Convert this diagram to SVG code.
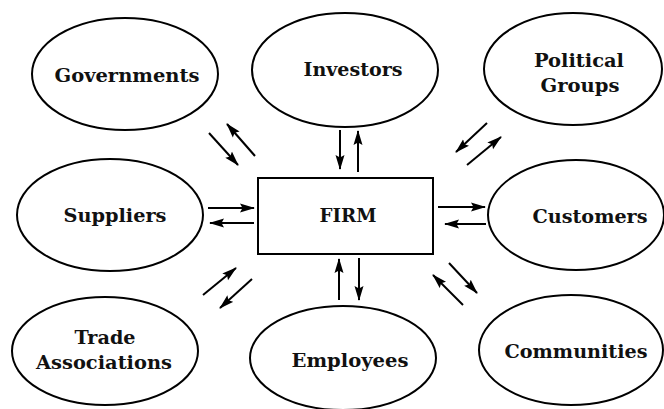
<svg xmlns="http://www.w3.org/2000/svg" width="664" height="409" viewBox="0 0 664 409">
<style>
.n{fill:#fff;stroke:#000;stroke-width:2}
.t{font-family:"DejaVu Serif","Liberation Serif",serif;font-weight:bold;font-size:18px;fill:#111;text-anchor:middle}
.c line{stroke:#000;stroke-width:2;marker-end:url(#ah)}
</style>
<defs>
<marker id="ah" viewBox="0 0 15 10" refX="14" refY="5" markerWidth="15" markerHeight="10" markerUnits="userSpaceOnUse" orient="auto">
<path d="M0,0.5 L15,5 L0,9.5 L2.5,5 z" fill="#000"/>
</marker>
</defs>
<rect width="664" height="409" fill="#fff"/>
<g id="governments"><ellipse class="n" cx="125" cy="74" rx="93" ry="56"/><text class="t" x="127" y="82" textLength="145" lengthAdjust="spacingAndGlyphs">Governments</text></g>
<g id="investors"><ellipse class="n" cx="345" cy="70" rx="93" ry="57"/><text class="t" x="353" y="76" textLength="99" lengthAdjust="spacingAndGlyphs">Investors</text></g>
<g id="political-groups"><ellipse class="n" cx="573" cy="69" rx="89" ry="56"/><text class="t" x="579" y="67" textLength="90" lengthAdjust="spacingAndGlyphs">Political</text><text class="t" x="580" y="92" textLength="79" lengthAdjust="spacingAndGlyphs">Groups</text></g>
<g id="suppliers"><ellipse class="n" cx="110" cy="215" rx="93" ry="56"/><text class="t" x="115" y="222" textLength="103" lengthAdjust="spacingAndGlyphs">Suppliers</text></g>
<g id="firm"><rect class="n" x="258" y="178" width="175" height="76"/><text class="t" x="348" y="222" textLength="57" lengthAdjust="spacingAndGlyphs">FIRM</text></g>
<g id="customers"><ellipse class="n" cx="576" cy="215" rx="88" ry="55"/><text class="t" x="590" y="223" textLength="115" lengthAdjust="spacingAndGlyphs">Customers</text></g>
<g id="trade-associations"><ellipse class="n" cx="105" cy="351" rx="93" ry="54"/><text class="t" x="105" y="344" textLength="61" lengthAdjust="spacingAndGlyphs">Trade</text><text class="t" x="104" y="369" textLength="136" lengthAdjust="spacingAndGlyphs">Associations</text></g>
<g id="employees"><ellipse class="n" cx="343" cy="358" rx="93" ry="52"/><text class="t" x="350" y="367" textLength="117" lengthAdjust="spacingAndGlyphs">Employees</text></g>
<g id="communities"><ellipse class="n" cx="571" cy="350" rx="92" ry="55"/><text class="t" x="576" y="358" textLength="143" lengthAdjust="spacingAndGlyphs">Communities</text></g>
<g id="connectors" class="c">
<line x1="340" y1="130" x2="340" y2="169"/>
<line x1="358" y1="172" x2="358" y2="131"/>
<line x1="339" y1="300" x2="339" y2="259"/>
<line x1="359" y1="258" x2="359" y2="300"/>
<line x1="208" y1="208" x2="254" y2="208"/>
<line x1="254" y1="223" x2="210" y2="223"/>
<line x1="438" y1="207" x2="485" y2="207"/>
<line x1="486" y1="224" x2="445" y2="224"/>
<line x1="209" y1="133" x2="238" y2="165"/>
<line x1="255" y1="156" x2="227" y2="124"/>
<line x1="487" y1="123" x2="456" y2="152"/>
<line x1="467" y1="165" x2="501" y2="137"/>
<line x1="203" y1="295" x2="236" y2="268"/>
<line x1="252" y1="279" x2="220" y2="308"/>
<line x1="449" y1="263" x2="477" y2="293"/>
<line x1="463" y1="305" x2="433" y2="275"/>
</g>
</svg>
